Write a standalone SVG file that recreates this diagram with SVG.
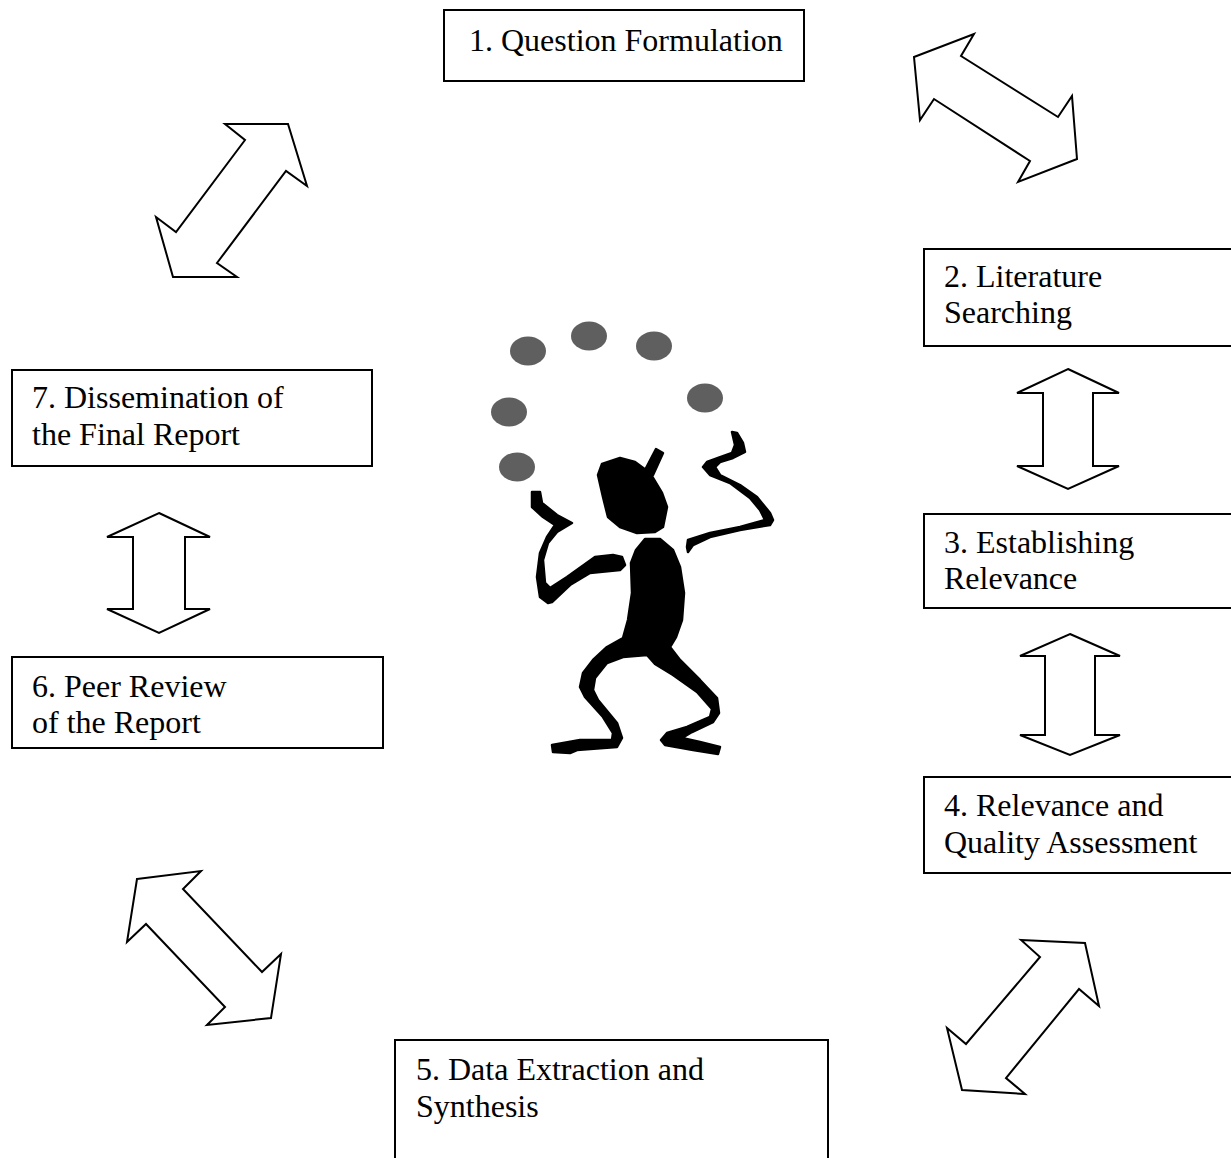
<svg xmlns="http://www.w3.org/2000/svg" width="1231" height="1158" viewBox="0 0 1231 1158">
<style>
.box{fill:#fff;stroke:#000;stroke-width:2}
.lbl{font-family:"Liberation Serif","Times New Roman",serif;font-size:32px;fill:#000}
.arr{fill:#fff;stroke:#000;stroke-width:2;stroke-linejoin:miter}
.ball{fill:#5f5f5f}
.fig{fill:#000;stroke:#000;stroke-width:2.5;stroke-linejoin:round}
</style>
<rect width="1231" height="1158" fill="#fff"/>
<g id="node1"><rect class="box" x="444" y="10" width="360" height="71"/><text class="lbl" x="469" y="51">1. Question Formulation</text></g>
<g id="node2"><rect class="box" x="924" y="249" width="320" height="97"/><text class="lbl" x="944" y="287">2. Literature</text><text class="lbl" x="944" y="323">Searching</text></g>
<g id="node3"><rect class="box" x="924" y="514" width="320" height="94"/><text class="lbl" x="944" y="553">3. Establishing</text><text class="lbl" x="944" y="589">Relevance</text></g>
<g id="node4"><rect class="box" x="924" y="777" width="320" height="96"/><text class="lbl" x="944" y="816">4. Relevance and</text><text class="lbl" x="944" y="853">Quality Assessment</text></g>
<g id="node5"><rect class="box" x="395" y="1040" width="433" height="130"/><text class="lbl" x="416" y="1080">5. Data Extraction and</text><text class="lbl" x="416" y="1117">Synthesis</text></g>
<g id="node6"><rect class="box" x="12" y="657" width="371" height="91"/><text class="lbl" x="32" y="697">6. Peer Review</text><text class="lbl" x="32" y="733">of the Report</text></g>
<g id="node7"><rect class="box" x="12" y="370" width="360" height="96"/><text class="lbl" x="32" y="408">7. Dissemination of</text><text class="lbl" x="32" y="445">the Final Report</text></g>
<g id="connectors">
<polygon class="arr" points="914,57 974,34 961,56 1058,117 1072,96 1077,159 1018,182 1030,161 934,99 920,120"/>
<polygon class="arr" points="1068,369 1119,393 1093,393 1093,466 1119,466 1068,489 1017,466 1043,466 1043,393 1017,393"/>
<polygon class="arr" points="1070,634 1120,656 1095,656 1095,735 1120,735 1070,755 1020,735 1045,735 1045,656 1020,656"/>
<polygon class="arr" points="1021,940 1085,943 1099,1006 1079,989 1006,1078 1025,1094 962,1090 947,1028 966,1044 1040,957"/>
<polygon class="arr" points="137,879 201,871 183,889 262,972 281,954 271,1018 207,1025 225,1007 146,924 127,942"/>
<polygon class="arr" points="159,513 210,537 185,537 185,609 210,609 159,633 107,609 133,609 133,537 107,537"/>
<polygon class="arr" points="225,124 288,124 307,186 286,171 217,263 237,277 173,277 156,217 176,232 245,140"/>
</g>
<g id="juggler">
<ellipse class="ball" cx="528" cy="351" rx="18" ry="14.5"/>
<ellipse class="ball" cx="589" cy="336" rx="18" ry="14.5"/>
<ellipse class="ball" cx="654" cy="346" rx="18" ry="14.5"/>
<ellipse class="ball" cx="705" cy="398" rx="18" ry="14.5"/>
<ellipse class="ball" cx="509" cy="412" rx="18" ry="14.5"/>
<ellipse class="ball" cx="517" cy="467" rx="18" ry="14.5"/>
<polygon class="fig" points="602,464 620,458 635,462 650,473 662,493 667,507 663,527 655,532 637,533 620,527 608,517 603,497 598,475"/>
<polygon class="fig" points="644,472 656,449 663,453 653,475"/>
<polygon class="fig" points="636,550 645,539 660,539 673,550 680,567 684,593 682,620 676,637 670,647 680,660 700,680 717,698 719,713 713,722 692,732 682,738 700,742 720,747 718,754 693,750 665,745 661,740 667,733 687,727 710,717 712,709 697,692 673,675 655,664 647,655 623,657 607,663 595,678 593,690 598,700 617,723 622,738 617,747 577,750 570,753 553,752 552,745 580,740 612,740 613,733 603,717 585,697 580,687 583,673 593,660 607,647 623,638 628,620 632,593 631,563"/>
<polygon class="fig" points="532,492 540,492 542,503 557,515 572,523 557,532 548,543 543,560 545,583 550,588 567,577 595,557 613,555 622,557 625,565 620,570 590,573 570,585 552,602 548,603 540,597 537,577 540,553 547,537 555,525 543,517 532,507"/>
<polygon class="fig" points="732,432 737,433 743,443 745,452 733,458 720,462 715,467 720,475 740,485 757,497 770,513 773,520 770,525 740,530 710,537 693,545 688,552 687,547 688,540 710,533 740,527 765,520 760,510 750,498 730,483 710,475 703,467 707,462 718,458 732,453 735,445"/>
</g>
</svg>
